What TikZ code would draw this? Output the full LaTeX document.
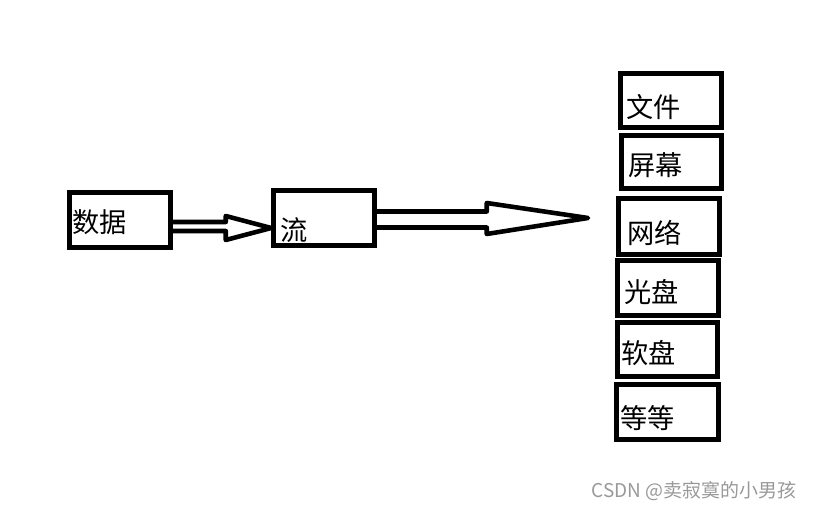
\documentclass[tikz,border=0pt]{standalone}
\usepackage{fontspec}
\setmainfont{Noto Sans CJK SC}
\usepackage{tikz}
\usetikzlibrary{calc}

\begin{document}
\begin{tikzpicture}[
  x=0.02cm,y=-0.02cm,
  box/.style={rectangle,draw,line width=2.6pt,inner sep=0pt,
              minimum width=2.02cm,minimum height=1.10cm},
  txt/.style={anchor=west,inner sep=0pt,
              font=\fontsize{15.5pt}{18pt}\selectfont},
  hollow/.style={draw,line width=2.6pt,line join=round,line cap=round},
  credittxt/.style={anchor=center,inner sep=0pt,text=black!40,
               font=\fontsize{10.8pt}{12pt}\selectfont}
]
\useasboundingbox (0,0) rectangle (815,509);

\node[box] (data) at (120,220) {};
\node[box] (flow) at (324,218) {};

\node[box,minimum height=1.08cm] (file)   at (671,100.5) {};
\node[box,minimum height=1.06cm,minimum width=2.00cm] (screen) at (671.5,162) {};
\node[box,minimum height=1.12cm] (net)    at (669,226.5) {};
\node[box] (disc)   at (668,288) {};
\node[box,minimum height=1.08cm,minimum width=2.00cm] (floppy) at (667.5,349.5) {};
\node[box,minimum width=2.04cm] (etc)    at (667.5,412) {};

\node[txt] (data-t)   at (72,222)  {数据};
\node[txt] (flow-t)   at (280,230) {流};
\node[txt] (file-t)   at (626,107) {文件};
\node[txt] (screen-t) at (628,165) {屏幕};
\node[txt] (net-t)    at (627,233) {网络};
\node[txt] (disc-t)   at (624,292) {光盘};
\node[txt] (floppy-t) at (621,353) {软盘};
\node[txt] (etc-t)    at (620,418) {等等};

% hollow arrows
\draw[hollow] ($(data.east)+(0,2)$) -- ++(53,0) -- ++(0,-6)
  -- ($(flow.west)+(0,10)$) -- ($(data.east)+(53,20)$) -- ++(0,-9) -- ++(-53,0);

\coordinate (out) at (588,218);
\draw[hollow] ($(flow.east)+(0,-6.5)$) -- ++(110,0) -- ++(0,-8.5)
  -- (out) -- ($(flow.east)+(110,16)$) -- ++(0,-6.5) -- ++(-110,0);

\node[credittxt] (credit) at (694,491) {CSDN @卖寂寞的小男孩};
\end{tikzpicture}
\end{document}
